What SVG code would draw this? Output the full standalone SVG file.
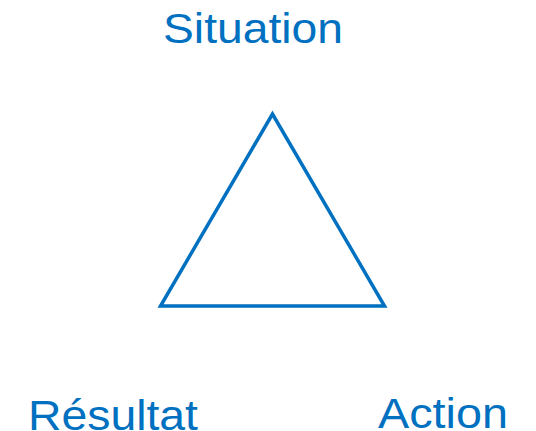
<svg xmlns="http://www.w3.org/2000/svg" width="536" height="431" viewBox="0 0 536 431">
<style>
.lbl{font-family:"Liberation Sans",Arial,sans-serif;font-size:42px;fill:#0070C0}
.tri{fill:none;stroke:#0070C0;stroke-width:3.5;stroke-linejoin:miter}
</style>
<rect width="536" height="431" fill="#fff"/>
<g id="triangle"><polygon class="tri" points="272.5,114 160.5,306 384.5,306"/></g>
<g id="situation"><text class="lbl" x="163" y="43" textLength="180" lengthAdjust="spacingAndGlyphs">Situation</text></g>
<g id="resultat"><text class="lbl" x="28" y="430" textLength="170" lengthAdjust="spacingAndGlyphs">Résultat</text></g>
<g id="action"><text class="lbl" x="378" y="428" textLength="130" lengthAdjust="spacingAndGlyphs">Action</text></g>
<g id="connectors"></g>
</svg>
